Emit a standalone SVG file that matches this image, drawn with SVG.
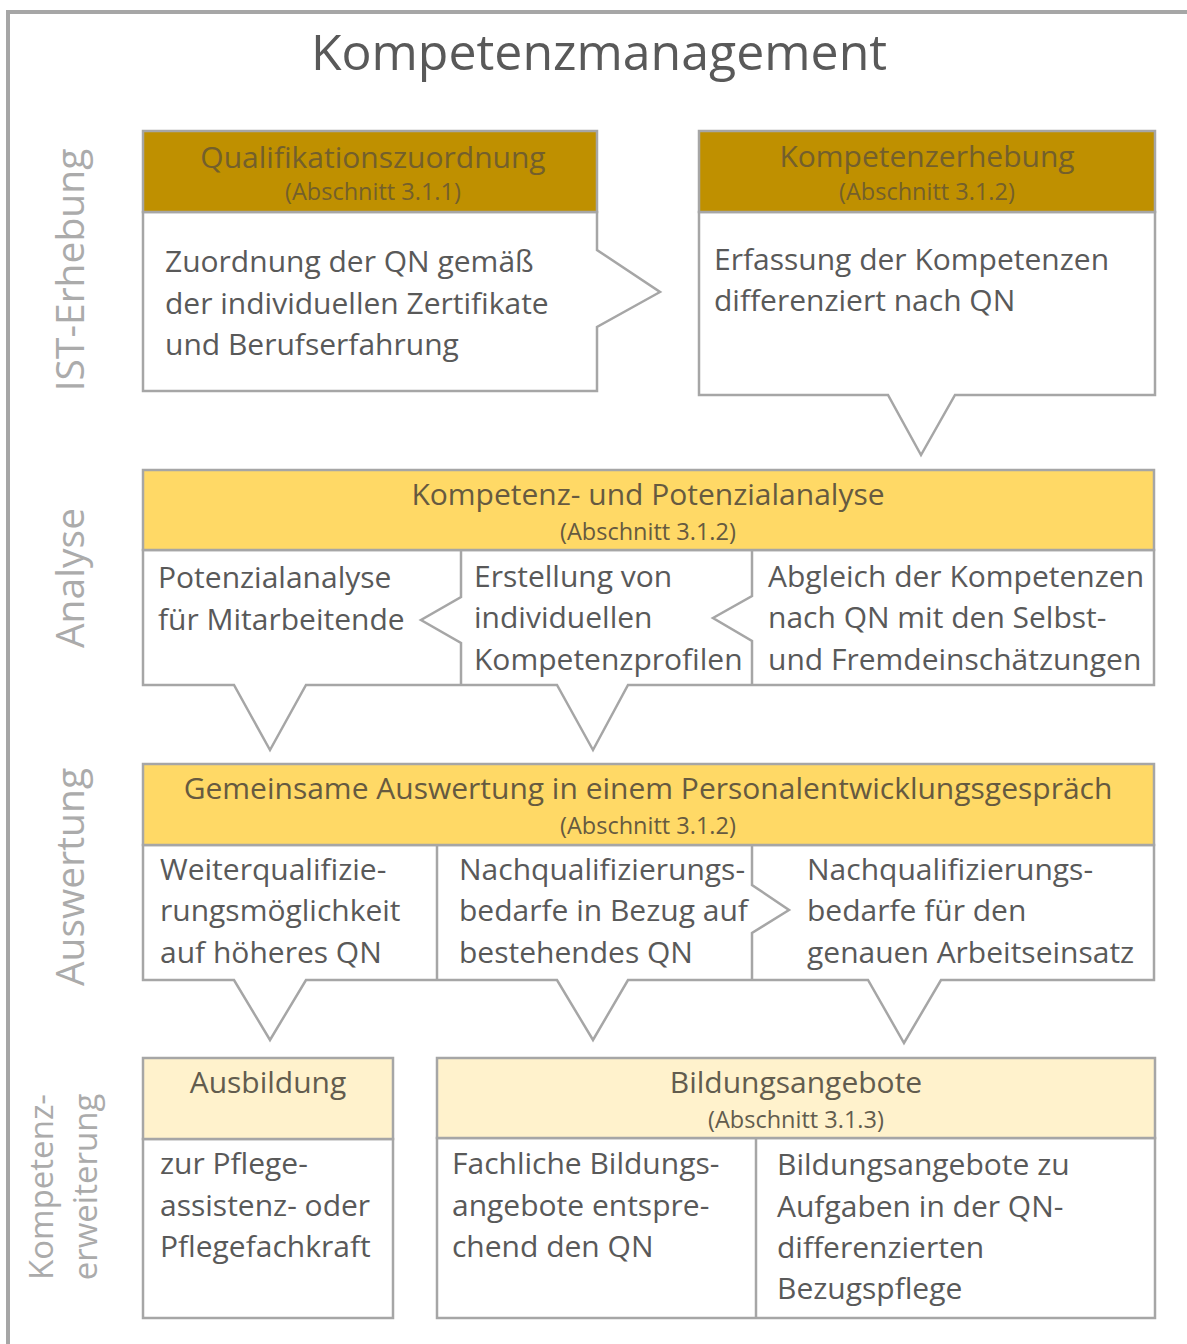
<svg xmlns="http://www.w3.org/2000/svg" width="1187" height="1344" viewBox="0 0 1187 1344">
<style>
  .frame{fill:none;stroke:#a6a6a6;stroke-width:4}
  .box{fill:#ffffff;stroke:#a6a6a6;stroke-width:2.5;stroke-linejoin:miter}
  .div{fill:none;stroke:#a6a6a6;stroke-width:2.5}
  .h1{fill:#bf9000;stroke:#a6a6a6;stroke-width:2.5}
  .h2{fill:#ffd966;stroke:#a6a6a6;stroke-width:2.5}
  .h4{fill:#fff2cc;stroke:#a6a6a6;stroke-width:2.5}
  text{font-family:"Open Sans","Noto Sans","DejaVu Sans",sans-serif}
  .title{font-size:50px;fill:#595959;text-anchor:middle}
  .lane{font-size:39px;fill:#ababab;text-anchor:middle}
  .lane2{font-size:33px;fill:#ababab;text-anchor:middle}
  .ht1{font-size:30px;fill:#735f2c;text-anchor:middle}
  .hs1{font-size:23.5px;fill:#735f2c;text-anchor:middle}
  .ht2{font-size:30px;fill:#665a40;text-anchor:middle}
  .hs2{font-size:23.5px;fill:#665a40;text-anchor:middle}
  .ht4{font-size:30px;fill:#625c4e;text-anchor:middle}
  .hs4{font-size:23.5px;fill:#625c4e;text-anchor:middle}
  .body{font-size:30px;fill:#595959}
</style>

<path class="frame" d="M8,1344 V12 H1187"/>
<text class="title" x="599" y="70">Kompetenzmanagement</text>

<g id="lane-labels">
  <text class="lane" transform="translate(84,270) rotate(-90)">IST-Erhebung</text>
  <text class="lane" transform="translate(84,578) rotate(-90)">Analyse</text>
  <text class="lane" transform="translate(84,877) rotate(-90)">Auswertung</text>
  <text class="lane2" transform="translate(53,1187) rotate(-90)">Kompetenz-</text>
  <text class="lane2" transform="translate(97,1187) rotate(-90)">erweiterung</text>
</g>

<g id="connectors">
  <!-- callout pointers are drawn as part of the node outlines -->
</g>

<g id="qualifikationszuordnung">
  <path class="box" d="M143,212 H597 V250 L660,292 L597,327 V391 H143 Z"/>
  <rect class="h1" x="143" y="131" width="454" height="81"/>
  <text class="ht1" x="373" y="168">Qualifikationszuordnung</text>
  <text class="hs1" x="373" y="200">(Abschnitt 3.1.1)</text>
  <text class="body" x="165" y="272">Zuordnung der QN gemäß</text>
  <text class="body" x="165" y="314">der individuellen Zertifikate</text>
  <text class="body" x="165" y="355">und Berufserfahrung</text>
</g>

<g id="kompetenzerhebung">
  <path class="box" d="M699,212 H1155 V395 H955 L921,455 L888,395 H699 Z"/>
  <rect class="h1" x="699" y="131" width="456" height="81"/>
  <text class="ht1" x="927" y="167">Kompetenzerhebung</text>
  <text class="hs1" x="927" y="200">(Abschnitt 3.1.2)</text>
  <text class="body" x="714" y="270">Erfassung der Kompetenzen</text>
  <text class="body" x="714" y="311">differenziert nach QN</text>
</g>

<g id="analyse">
  <path class="box" d="M143,550 H1154 V685 H628 L593,750 L557,685 H306 L270,750 L234,685 H143 Z"/>
  <rect class="h2" x="143" y="470" width="1011" height="80"/>
  <path class="div" d="M461,550 V597 L421,620 L461,643 V685"/>
  <path class="div" d="M752,550 V596 L713,618 L752,641 V685"/>
  <text class="ht2" x="648" y="505">Kompetenz- und Potenzialanalyse</text>
  <text class="hs2" x="648" y="540">(Abschnitt 3.1.2)</text>
  <text class="body" x="158" y="588">Potenzialanalyse</text>
  <text class="body" x="158" y="630">für Mitarbeitende</text>
  <text class="body" x="474" y="587">Erstellung von</text>
  <text class="body" x="474" y="628">individuellen</text>
  <text class="body" x="474" y="670">Kompetenzprofilen</text>
  <text class="body" x="768" y="587">Abgleich der Kompetenzen</text>
  <text class="body" x="768" y="628">nach QN mit den Selbst-</text>
  <text class="body" x="768" y="670">und Fremdeinschätzungen</text>
</g>

<g id="auswertung">
  <path class="box" d="M143,845 H1154 V980 H941 L904,1043 L868,980 H628 L593,1040 L557,980 H306 L270,1040 L234,980 H143 Z"/>
  <rect class="h2" x="143" y="764" width="1011" height="81"/>
  <path class="div" d="M437,845 V980"/>
  <path class="div" d="M752,845 V885 L789,910 L752,933 V980"/>
  <text class="ht2" x="648" y="799">Gemeinsame Auswertung in einem Personalentwicklungsgespräch</text>
  <text class="hs2" x="648" y="834">(Abschnitt 3.1.2)</text>
  <text class="body" x="160" y="880">Weiterqualifizie-</text>
  <text class="body" x="160" y="921">rungsmöglichkeit</text>
  <text class="body" x="160" y="963">auf höheres QN</text>
  <text class="body" x="459" y="880">Nachqualifizierungs-</text>
  <text class="body" x="459" y="921">bedarfe in Bezug auf</text>
  <text class="body" x="459" y="963">bestehendes QN</text>
  <text class="body" x="807" y="880">Nachqualifizierungs-</text>
  <text class="body" x="807" y="921">bedarfe für den</text>
  <text class="body" x="807" y="963">genauen Arbeitseinsatz</text>
</g>

<g id="ausbildung">
  <rect class="box" x="143" y="1139" width="250" height="179"/>
  <rect class="h4" x="143" y="1058" width="250" height="81"/>
  <text class="ht4" x="268" y="1093">Ausbildung</text>
  <text class="body" x="160" y="1174">zur Pflege-</text>
  <text class="body" x="160" y="1216">assistenz- oder</text>
  <text class="body" x="160" y="1257">Pflegefachkraft</text>
</g>

<g id="bildungsangebote">
  <rect class="box" x="437" y="1138" width="718" height="180"/>
  <rect class="h4" x="437" y="1058" width="718" height="80"/>
  <path class="div" d="M756,1138 V1318"/>
  <text class="ht4" x="796" y="1093">Bildungsangebote</text>
  <text class="hs4" x="796" y="1128">(Abschnitt 3.1.3)</text>
  <text class="body" x="452" y="1174">Fachliche Bildungs-</text>
  <text class="body" x="452" y="1216">angebote entspre-</text>
  <text class="body" x="452" y="1257">chend den QN</text>
  <text class="body" x="777" y="1175">Bildungsangebote zu</text>
  <text class="body" x="777" y="1217">Aufgaben in der QN-</text>
  <text class="body" x="777" y="1258">differenzierten</text>
  <text class="body" x="777" y="1299">Bezugspflege</text>
</g>
</svg>
